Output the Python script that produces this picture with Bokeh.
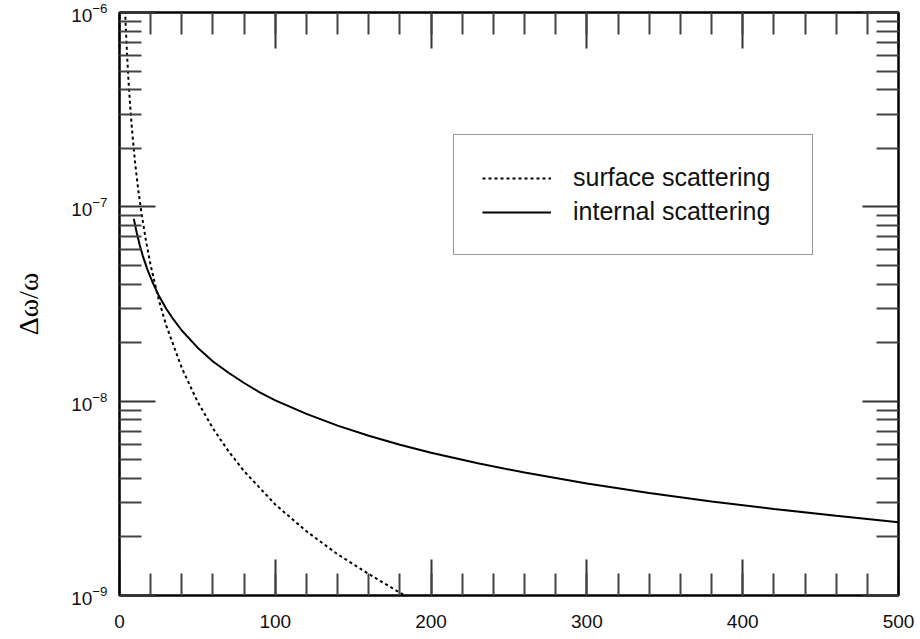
from bokeh.plotting import figure
from bokeh.models import (Range1d, LinearAxis, LogAxis, SingleIntervalTicker, FixedTicker,
                          Legend, LegendItem, CustomJSTickFormatter)
from bokeh.embed import file_html
from bokeh.resources import INLINE

# ---- data ----
surface_x = [3.6, 4, 5, 6, 7, 8, 10, 12, 14, 17, 20, 25, 30, 40, 50, 60, 70, 80,
             100, 120, 140, 160, 183]
surface_y = [1.02e-6, 8.5e-7, 5.74e-7, 4.17e-7, 3.18e-7, 2.51e-7, 1.69e-7, 1.23e-7, 9.4e-8,
             6.67e-8, 5.0e-8, 3.37e-8, 2.45e-8, 1.48e-8, 9.97e-9, 7.24e-9, 5.52e-9, 4.36e-9,
             2.94e-9, 2.14e-9, 1.63e-9, 1.29e-9, 1.0e-9]

internal_x = [9.2, 11, 13, 15, 18, 21, 25, 30, 35, 40, 50, 60, 70, 80, 90, 100, 120, 140,
              160, 180, 200, 230, 260, 300, 340, 380, 420, 460, 500]
internal_y = [8.67e-8, 7.40e-8, 6.35e-8, 5.58e-8, 4.74e-8, 4.13e-8, 3.52e-8, 2.99e-8, 2.61e-8,
              2.31e-8, 1.89e-8, 1.60e-8, 1.40e-8, 1.24e-8, 1.11e-8, 1.01e-8, 8.6e-9, 7.48e-9,
              6.64e-9, 5.97e-9, 5.43e-9, 4.79e-9, 4.29e-9, 3.77e-9, 3.37e-9, 3.05e-9, 2.79e-9,
              2.57e-9, 2.38e-9]

legend_labels = ["surface scattering", "internal scattering"]
y_label = "Δω/ω"
y_major = [1e-9, 1e-8, 1e-7, 1e-6]
y_minor = [m * d for d in [1e-9, 1e-8, 1e-7] for m in range(2, 10)]

p = figure(width=920, height=639, x_range=Range1d(0, 500), y_range=Range1d(1e-9, 1e-6),
           y_axis_type="log", output_backend="svg", toolbar_location=None,
           min_border_left=119, min_border_right=22, min_border_top=12, min_border_bottom=44)
p.background_fill_color = "white"
p.border_fill_color = "white"
p.xgrid.visible = False
p.ygrid.visible = False
p.outline_line_color = "black"
p.outline_line_width = 2

x_ticker = SingleIntervalTicker(interval=100, num_minor_ticks=5)
y_ticker = FixedTicker(ticks=y_major, minor_ticks=y_minor)

def style_axis(ax):
    ax.axis_line_color = "black"
    ax.axis_line_width = 2
    ax.major_tick_in = 36
    ax.major_tick_out = 0
    ax.minor_tick_in = 22
    ax.minor_tick_out = 0
    ax.major_tick_line_color = "#333333"
    ax.minor_tick_line_color = "#444444"
    ax.major_tick_line_width = 2
    ax.minor_tick_line_width = 2
    ax.major_label_text_font = "Liberation Sans"
    ax.major_label_text_font_size = "19px"
    ax.major_label_text_color = "#111111"
    ax.major_label_standoff = 12

xa = p.xaxis[0]
xa.ticker = x_ticker
style_axis(xa)
xa.major_label_standoff = 19

ya = p.yaxis[0]
ya.ticker = y_ticker
style_axis(ya)
ya.axis_label = y_label
ya.axis_label_text_font = "Liberation Serif"
ya.axis_label_text_font_size = "28px"
ya.axis_label_text_font_style = "normal"
ya.axis_label_text_color = "black"
ya.axis_label_standoff = 24

blank = CustomJSTickFormatter(code="return ''")
top = LinearAxis(ticker=x_ticker, formatter=blank)
style_axis(top)
top.major_label_standoff = 0
p.add_layout(top, "above")

right = LogAxis(ticker=y_ticker, formatter=CustomJSTickFormatter(code="return ''"))
style_axis(right)
right.major_label_standoff = 0
p.add_layout(right, "right")

r1 = p.line(surface_x, surface_y, line_color="black", line_width=2, line_dash="3 3")
r2 = p.line(internal_x, internal_y, line_color="black", line_width=2)

legend = Legend(items=[LegendItem(label=legend_labels[0], renderers=[r1]),
                       LegendItem(label=legend_labels[1], renderers=[r2])],
                location=(334, 340))
legend.border_line_color = "#333333"
legend.border_line_width = 1
legend.background_fill_color = "white"
legend.background_fill_alpha = 1
legend.padding = 28
legend.spacing = 5
legend.margin = 0
legend.glyph_width = 69
legend.glyph_height = 28
legend.label_height = 28
legend.label_standoff = 22
legend.label_width = 211
legend.label_text_font = "Liberation Sans"
legend.label_text_font_size = "25px"
legend.label_text_color = "#111111"
p.add_layout(legend)

open("out.html", "w").write(file_html(p, INLINE))
